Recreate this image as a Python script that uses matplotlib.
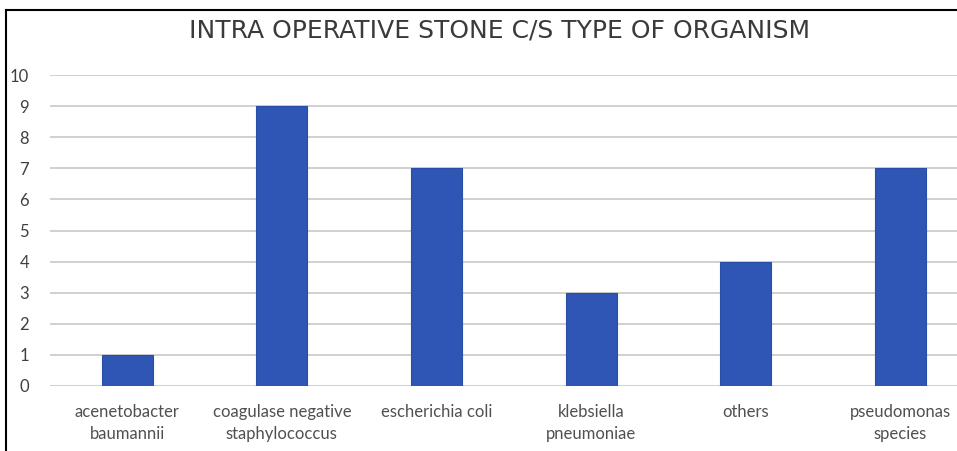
import matplotlib
matplotlib.use("Agg")
import matplotlib.pyplot as plt
from matplotlib.lines import Line2D
import numpy as np

organisms = ["acenetobacter\nbaumannii", "coagulase negative\nstaphylococcus",
             "escherichia coli", "klebsiella\npneumoniae", "others",
             "pseudomonas\nspecies"]
counts = [1, 9, 7, 3, 4, 7]
yticks = list(range(0, 11))

W, H = 957, 451
fig = plt.figure(figsize=(W / 100, H / 100), dpi=100)
fig.patch.set_facecolor("white")

# axes run a bit past the right edge, like the cropped original
ax = fig.add_axes([50 / W, (H - 386) / H, 927.6 / W, (386 - 75) / H])
x = np.arange(len(organisms))
ax.bar(x, counts, width=0.33, color="#3056B5", edgecolor="#2A4EA6", linewidth=0.8, zorder=3)

ax.set_xlim(-0.5, len(organisms) - 0.5)
ax.set_ylim(0, 10)
ax.set_yticks(yticks)
ax.set_yticklabels([str(t) for t in yticks], fontsize=12, color="#404040", family="Lato")
ax.set_xticks(x)
ax.set_xticklabels(organisms, fontsize=12, color="#505050", family="Lato", linespacing=1.45)
ax.tick_params(axis="y", length=0, pad=15)
ax.tick_params(axis="x", length=0, pad=13)
ax.grid(axis="y", color="#d0d0d0", linewidth=1.4, zorder=0)
for s in ax.spines.values():
    s.set_visible(False)

fig.text(500 / W, 1 - 30 / H, "INTRA OPERATIVE STONE C/S TYPE OF ORGANISM",
         ha="center", va="center", fontsize=18, color="#3a3a3a", family="DejaVu Sans")

# chart border (cropped at right and bottom)
fig.add_artist(Line2D([6 / W, 6 / W], [0, 1 - 10 / H], color="black", linewidth=1.5))
fig.add_artist(Line2D([6 / W, 1], [1 - 10 / H, 1 - 10 / H], color="black", linewidth=1.5))

fig.savefig("out.png", dpi=100)
